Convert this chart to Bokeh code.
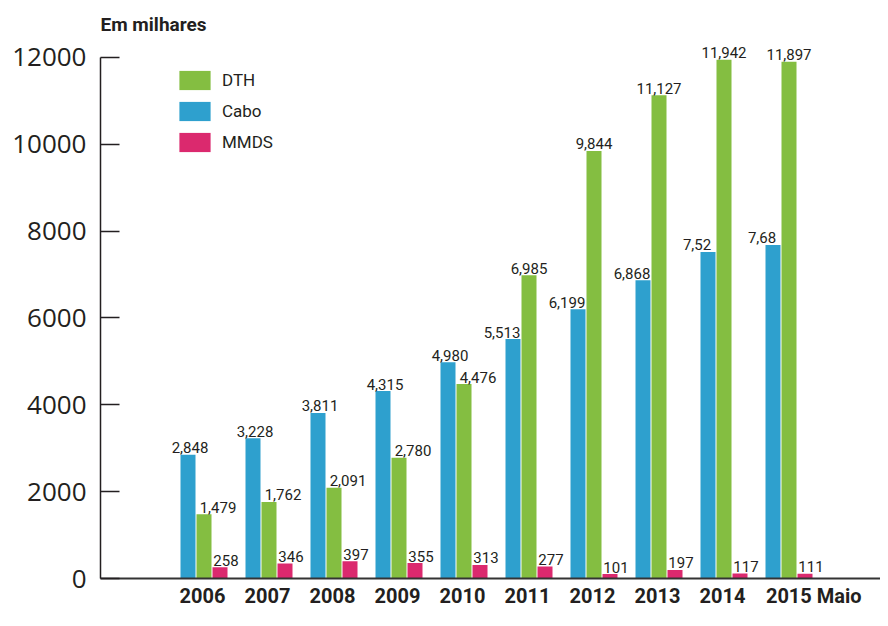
import numpy as np
from bokeh.plotting import figure
from bokeh.models import (ColumnDataSource, Range1d, FixedTicker, Legend, LegendItem,
                          CustomJSTickFormatter)
from bokeh.embed import file_html
from bokeh.resources import INLINE
from bokeh.core.properties import value

# ---- data ----
years = ["2006", "2007", "2008", "2009", "2010", "2011", "2012", "2013", "2014", "2015 Maio"]
cabo = [2848, 3228, 3811, 4315, 4980, 5513, 6199, 6868, 7520, 7680]
dth = [1479, 1762, 2091, 2780, 4476, 6985, 9844, 11127, 11942, 11897]
mmds = [258, 346, 397, 355, 313, 277, 101, 197, 117, 111]
cabo_labels = ["2,848", "3,228", "3,811", "4,315", "4,980", "5,513", "6,199", "6,868", "7,52", "7,68"]
dth_labels = ["1,479", "1,762", "2,091", "2,780", "4,476", "6,985", "9,844", "11,127", "11,942", "11,897"]
mmds_labels = ["258", "346", "397", "355", "313", "277", "101", "197", "117", "111"]
y_ticks = [0, 2000, 4000, 6000, 8000, 10000, 12000]

# ---- style ----
GREEN = "#84BE41"
BLUE = "#2EA0CE"
PINK = "#DB296E"
TXT = "#231F20"
FONT = "Roboto"

UNIT = 65.0  # pixels per group
idx = np.arange(len(years))
bw = 15 / UNIT

p = figure(width=880, height=610, output_backend="svg", toolbar_location=None,
           x_range=Range1d(-80 / UNIT, 700 / UNIT), y_range=Range1d(0, 12434),
           min_border_left=100, min_border_right=0, min_border_top=38, min_border_bottom=0)
p.xgrid.visible = False
p.ygrid.visible = False
p.outline_line_color = None
p.background_fill_color = "white"

src = ColumnDataSource(dict(
    xc=idx + 7.5 / UNIT, xd=idx + 23.5 / UNIT, xm=idx + 39.5 / UNIT,
    cabo=cabo, dth=dth, mmds=mmds,
    lc=cabo_labels, ld=dth_labels, lm=mmds_labels,
    oc=[2 if c >= d else -11 for c, d in zip(cabo, dth)],
    od=[14 if c > d else 0 for c, d in zip(cabo, dth)],
))

r_c = p.vbar(x="xc", top="cabo", width=bw, source=src, fill_color=BLUE, line_color=None)
r_d = p.vbar(x="xd", top="dth", width=bw, source=src, fill_color=GREEN, line_color=None)
r_m = p.vbar(x="xm", top="mmds", width=bw, source=src, fill_color=PINK, line_color=None)

common = dict(source=src, text_align="center", text_baseline="alphabetic", y_offset=-7,
              text_font=value(FONT), text_font_size="15px", text_color=TXT)
p.text(x="xc", y="cabo", text="lc", x_offset="oc", **common)
p.text(x="xd", y="dth", text="ld", x_offset="od", **common)
p.text(x="xm", y="mmds", text="lm", x_offset=6, **common)

# x axis: category labels starting at each group's left edge
# (tick placed at the label's centre = group start + half the label width)
tick_pos = [float(i) + (0.5 * 10.5 * len(lbl) + 1) / UNIT for i, lbl in zip(idx, years)]
xa = p.xaxis[0]
xa.ticker = FixedTicker(ticks=tick_pos)
xa.formatter = CustomJSTickFormatter(args=dict(labels=years),
                                     code="return labels[Math.floor(tick + 1e-6)];")
xa.major_label_text_font = FONT
xa.major_label_text_font_style = "bold"
xa.major_label_text_font_size = "20px"
xa.major_label_text_color = TXT
xa.major_label_standoff = 5
xa.major_tick_line_color = None
xa.major_tick_in = 0
xa.major_tick_out = 0
xa.minor_tick_line_color = None
xa.axis_line_color = "#333333"
xa.axis_line_width = 2

# y axis
ya = p.yaxis[0]
ya.ticker = FixedTicker(ticks=y_ticks)
ya.bounds = (0, 12000)
ya.major_tick_in = 19
ya.major_tick_out = 0
ya.minor_tick_line_color = None
ya.axis_line_color = TXT
ya.axis_line_width = 1.5
ya.major_tick_line_color = TXT
ya.major_tick_line_width = 1.5
ya.major_label_text_font = "Open Sans"
ya.major_label_text_font_size = "26px"
ya.major_label_text_color = TXT
ya.major_label_standoff = 14

# title
p.title.text = "Em milhares"
p.title.align = "left"
p.title.text_font = FONT
p.title.text_font_style = "bold"
p.title.text_font_size = "19px"
p.title.text_color = TXT
p.title.standoff = 6

legend = Legend(items=[LegendItem(label="DTH", renderers=[r_d]),
                       LegendItem(label="Cabo", renderers=[r_c]),
                       LegendItem(label="MMDS", renderers=[r_m])],
                location=(75, 424), glyph_width=39, glyph_height=24, spacing=7,
                label_standoff=8, padding=0, margin=0,
                background_fill_alpha=0, border_line_color=None,
                label_text_font=FONT, label_text_font_size="17px", label_text_color=TXT)
p.add_layout(legend)

open("out.html", "w").write(file_html(p, INLINE))
